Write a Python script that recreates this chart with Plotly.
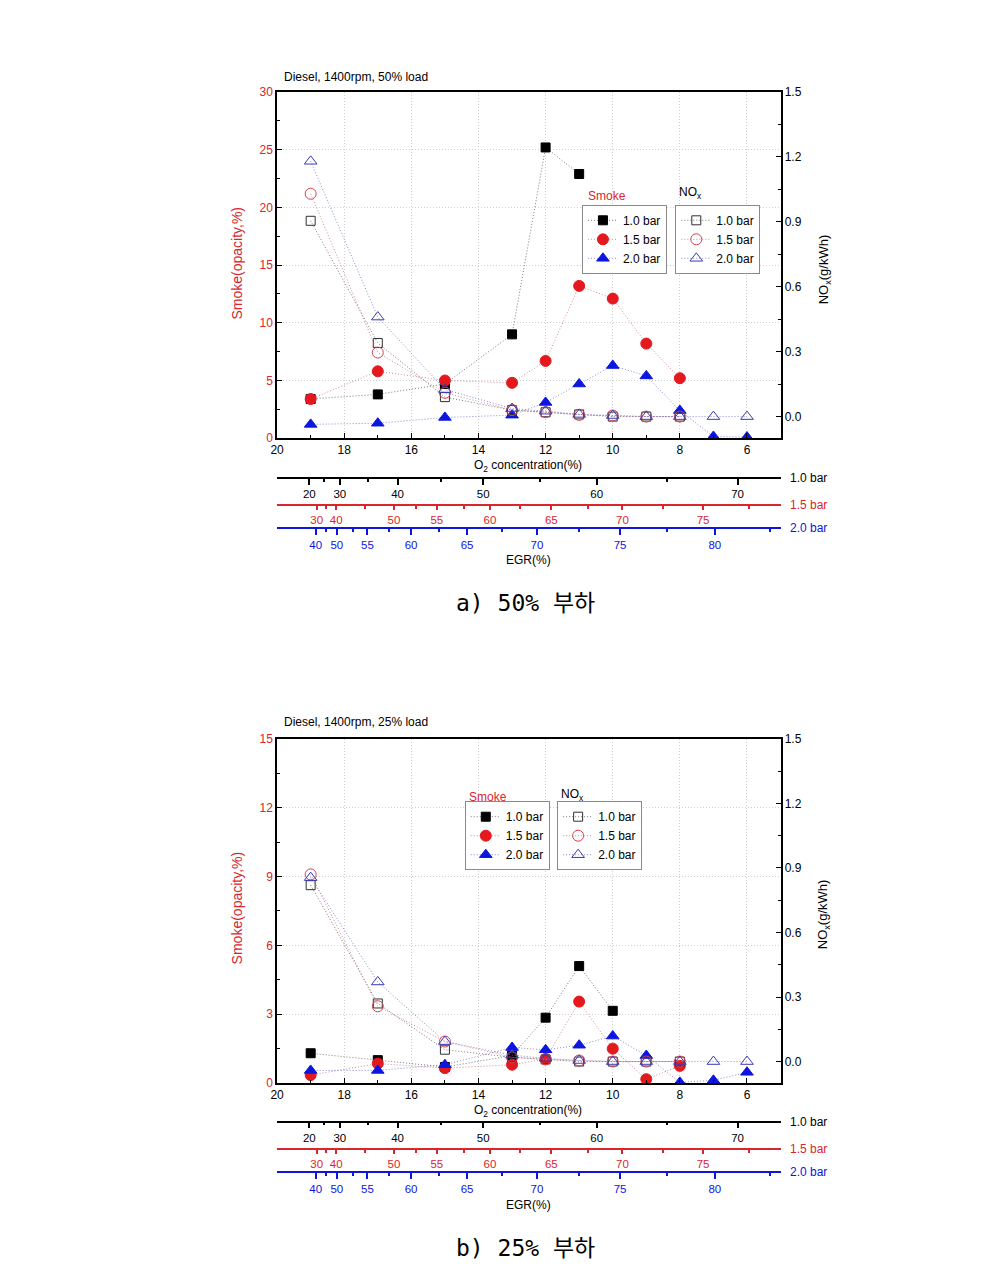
import plotly.graph_objects as go

W, H = 1001, 1277

# ---------------- data ----------------
o2 = [19, 17, 15, 13, 12, 11, 10, 9, 8, 7, 6]

# 50% load
smoke50_10 = [3.4, 3.8, 4.7, 9.0, 25.2, 22.9]
smoke50_15 = [3.4, 5.8, 5.0, 4.8, 6.7, 13.2, 12.1, 8.2, 5.2]
smoke50_20 = [1.2, 1.3, 1.8, 2.0, 3.1, 4.7, 6.3, 5.4, 2.4, 0.15, 0.1]
nox50_10 = [0.905, 0.34, 0.09, 0.03, 0.02, 0.01, 0.0, 0.0, 0.0]
nox50_15 = [1.03, 0.296, 0.11, 0.03, 0.02, 0.008, 0.005, 0.0, 0.0]
nox50_20 = [1.18, 0.46, 0.125, 0.037, 0.025, 0.01, 0.005, 0.0, 0.0, 0.0, 0.0]

# 25% load
smoke25_10 = [1.3, 1.0, 0.7, 1.2, 2.85, 5.1, 3.15]
smoke25_15 = [0.35, 0.85, 0.65, 0.8, 1.05, 3.55, 1.5, 0.17, 0.75]
smoke25_20 = [0.55, 0.55, 0.8, 1.55, 1.45, 1.65, 2.05, 1.2, 0.03, 0.12, 0.47]
nox25_10 = [0.82, 0.27, 0.055, 0.02, 0.01, 0.0, 0.0, 0.0, 0.0]
nox25_15 = [0.87, 0.257, 0.093, 0.02, 0.01, 0.005, 0.0, 0.0, 0.0]
nox25_20 = [0.855, 0.37, 0.093, 0.03, 0.015, 0.005, 0.0, 0.0, 0.0, 0.0, 0.0]

# axis ticks
o2_ticks = [20, 18, 16, 14, 12, 10, 8, 6]
o2_minor = [19, 17, 15, 13, 11, 9, 7, 5]
nox_ticks = [0.0, 0.3, 0.6, 0.9, 1.2, 1.5]
nox_minor = [0.15, 0.45, 0.75, 1.05, 1.35]

# EGR scales (labels and the O2 value each one sits at)
egr10_labels = [20, 30, 40, 50, 60, 70]
egr10_major_o2 = [19.04, 18.13, 16.41, 13.86, 10.48, 6.28]
egr10_minor_o2 = [18.61, 17.29, 15.12, 12.16, 8.37]
egr15_labels = [30, 40, 50, 55, 60, 65, 70, 75]
egr15_major_o2 = [18.82, 18.24, 16.52, 15.24, 13.66, 11.83, 9.71, 7.31]
egr15_minor_o2 = [18.53, 17.37, 15.86, 14.43, 12.75, 10.75, 8.50, 5.95]
egr20_labels = [40, 50, 55, 60, 65, 70, 75, 80]
egr20_major_o2 = [18.85, 18.22, 17.31, 16.01, 14.34, 12.26, 9.78, 6.96]
egr20_minor_o2 = [18.54, 17.75, 16.67, 15.18, 13.30, 11.00, 8.37, 5.31]

series_names = ["1.0 bar", "1.5 bar", "2.0 bar"]

# ---------------- styles ----------------
FONT = "Arial, Liberation Sans, sans-serif"
RED = "#e3191e"
RED_TXT = "#d9262c"
BLUE = "#0d16e0"
BLACK = "#000000"
GRID = "#cfcfcf"
GRID_DASH = "1px,2px"

fill_styles = [
    dict(symbol="square", color=BLACK, size=9, line="rgba(90,90,90,0.8)"),
    dict(symbol="circle", color=RED, size=11, line="rgba(200,110,120,0.8)"),
    dict(symbol="triangle-up", color=BLUE, size=11, line="rgba(110,110,200,0.8)"),
]
open_styles = [
    dict(symbol="square-open", color="#303030", size=9, line="rgba(90,90,90,0.8)"),
    dict(symbol="circle-open", color="#d8404e", size=11, line="rgba(200,110,120,0.8)"),
    dict(symbol="triangle-up-open", color="#3a3ab8", size=11, line="rgba(110,110,200,0.8)"),
]


def px(x):
    return x / W


def py(y):
    return 1 - y / H


fig = go.Figure()


def add_series(vals, style, name, xa, ya, legend):
    fig.add_trace(go.Scatter(
        x=o2[:len(vals)], y=vals, name=name, mode="lines+markers",
        xaxis=xa, yaxis=ya, legend=legend,
        line=dict(color=style["line"], width=1, dash="1px,2px"),
        marker=dict(symbol=style["symbol"], color=style["color"], size=style["size"],
                    line=dict(color=style["color"], width=1)),
    ))


panels = [
    dict(smoke=[smoke50_10, smoke50_15, smoke50_20], nox=[nox50_10, nox50_15, nox50_20],
         xa="x", ya="y", ya2="y2", lg1="legend", lg2="legend2"),
    dict(smoke=[smoke25_10, smoke25_15, smoke25_20], nox=[nox25_10, nox25_15, nox25_20],
         xa="x2", ya="y3", ya2="y4", lg1="legend3", lg2="legend4"),
]

for p in panels:
    for vals, st, nm in zip(p["smoke"], fill_styles, series_names):
        add_series(vals, st, nm, p["xa"], p["ya"], p["lg1"])
    for vals, st, nm in zip(p["nox"], open_styles, series_names):
        add_series(vals, st, nm, p["xa"], p["ya2"], p["lg2"])

# dummy traces for the EGR axes
for xa, ya in [("x3", "y"), ("x4", "y"), ("x5", "y"), ("x6", "y3"), ("x7", "y3"), ("x8", "y3")]:
    fig.add_trace(go.Scatter(x=[None], y=[None], xaxis=xa, yaxis=ya, showlegend=False,
                             hoverinfo="skip", mode="markers"))

XDOM = [px(272), px(779)]


def main_x(anchor):
    return dict(range=[20, 5], domain=XDOM, anchor=anchor, showline=True, linecolor=BLACK,
                linewidth=1.5, mirror=True, ticks="inside", ticklen=5, tickcolor=BLACK,
                tickvals=o2_ticks, tickfont=dict(size=12, color=BLACK, family=FONT),
                showgrid=True, gridcolor=GRID, griddash=GRID_DASH, gridwidth=1, zeroline=False,
                minor=dict(tickvals=o2_minor, ticklen=3, ticks="inside", tickcolor=BLACK,
                           showgrid=False))


def smoke_y(anchor, dom, rng, dtick):
    return dict(range=rng, domain=dom, anchor=anchor, showline=True, linecolor=BLACK,
                linewidth=1.5, ticks="inside", ticklen=5, tickcolor=BLACK, dtick=dtick,
                tick0=0, tickfont=dict(size=12, color=RED_TXT, family=FONT),
                showgrid=True, gridcolor=GRID, griddash=GRID_DASH, gridwidth=1, zeroline=False,
                minor=dict(dtick=dtick / 2, tick0=0, ticklen=3, ticks="inside",
                           tickcolor=BLACK, showgrid=False))


def nox_y(anchor, over):
    return dict(range=[-0.1, 1.5], overlaying=over, side="right", anchor=anchor,
                showline=True, linecolor=BLACK, linewidth=1.5, ticks="inside", ticklen=5,
                tickcolor=BLACK, tickvals=nox_ticks, tickformat=".1f",
                tickfont=dict(size=12, color=BLACK, family=FONT), showgrid=False,
                zeroline=False,
                minor=dict(tickvals=nox_minor, ticklen=3, ticks="inside", tickcolor=BLACK,
                           showgrid=False))


def egr_x(pos, color, tlen, labels, major, minor):
    return dict(range=[20, 5], domain=XDOM, overlaying="x", anchor="free", position=pos,
                side="bottom", showline=True, linecolor=color, linewidth=1.5,
                ticks="outside", ticklen=tlen, tickwidth=1.5, tickcolor=color,
                tickvals=major, ticktext=[str(v) for v in labels],
                tickfont=dict(size=11.5, color=color, family=FONT), showgrid=False,
                zeroline=False,
                minor=dict(tickvals=minor, ticklen=max(tlen - 3, 3), ticks="outside",
                           tickcolor=color, tickwidth=1.5, showgrid=False))


top_dom = [py(436), py(86)]
bot_dom = [py(1088), py(740)]

egr_rows_top = [476, 504, 527]
egr_rows_bot = [1127, 1155, 1178]
egr_colors = [BLACK, RED_TXT, BLUE]
egr_ticklen = [6, 4, 6]
egr_sets = [(egr10_labels, egr10_major_o2, egr10_minor_o2),
            (egr15_labels, egr15_major_o2, egr15_minor_o2),
            (egr20_labels, egr20_major_o2, egr20_minor_o2)]

layout_axes = dict(
    xaxis=main_x("y"),
    yaxis=smoke_y("x", top_dom, [0, 30], 5),
    yaxis2=nox_y("x", "y"),
    xaxis2=main_x("y3"),
    yaxis3=smoke_y("x2", bot_dom, [0, 15], 3),
    yaxis4=nox_y("x2", "y3"),
)
for i, (row, col, tl, s) in enumerate(zip(egr_rows_top, egr_colors, egr_ticklen, egr_sets)):
    layout_axes["xaxis%d" % (3 + i)] = egr_x(py(row), col, tl, *s)
for i, (row, col, tl, s) in enumerate(zip(egr_rows_bot, egr_colors, egr_ticklen, egr_sets)):
    ax = egr_x(py(row), col, tl, *s)
    ax["overlaying"] = "x2"
    layout_axes["xaxis%d" % (6 + i)] = ax


def legend_box(x, y):
    return dict(x=px(x), y=py(y), xanchor="left", yanchor="top", bgcolor="white",
                bordercolor="#8a8a8a", borderwidth=1, font=dict(size=12, family=FONT, color=BLACK),
                itemwidth=30, tracegroupgap=0)


annotations = []


def ann(text, x, y, color=BLACK, size=12, xanchor="center", angle=0, family=FONT):
    annotations.append(dict(text=text, x=px(x), y=py(y), xref="paper", yref="paper",
                            showarrow=False, xanchor=xanchor, yanchor="middle",
                            textangle=angle, font=dict(size=size, color=color, family=family)))


KFONT = "DejaVu Sans Mono, Noto Sans CJK KR, monospace"

for off, title, caption, lg_s, lg_n in [
    (0, "Diesel, 1400rpm, 50% load", "a) 50% 부하", (583, 191), (675, 188)),
    (652, "Diesel, 1400rpm, 25% load", "b) 25% 부하", (463, 799), (556, 797)),
]:
    ann(title, 277, 71 + off, xanchor="left")
    ann("Smoke(opacity,%)", 232, 259 + off, color=RED_TXT, size=14, angle=-90)
    ann("NO<sub>x</sub>(g/kWh)", 823, 265 + off, size=13, angle=-90)
    ann("O<sub>2</sub> concentration(%)", 525, 464 + off)
    rows = egr_rows_top if off == 0 else egr_rows_bot
    for r, c, nm in zip(rows, egr_colors, series_names):
        ann(nm, 787, r, color=c, xanchor="left")
    ann("EGR(%)", 525, 559 + off)
    ann("Smoke", lg_s[0], lg_s[1], color=RED_TXT, size=12, xanchor="left")
    ann("NO<sub>x</sub>", lg_n[0], lg_n[1], size=12, xanchor="left")
    ann(caption, 522, 603 + off, size=23, family=KFONT)

fig.update_layout(
    width=W, height=H, margin=dict(l=0, r=0, t=0, b=0),
    paper_bgcolor="white", plot_bgcolor="white",
    font=dict(family=FONT, size=12, color=BLACK),
    showlegend=True,
    legend=legend_box(579, 200),
    legend2=legend_box(673, 200),
    legend3=legend_box(461, 803),
    legend4=legend_box(554, 803),
    annotations=annotations,
    **layout_axes,
)

fig.write_html("out.html", config={"displayModeBar": False},
               post_script="document.body.style.margin='0';document.body.style.overflow='hidden';")
